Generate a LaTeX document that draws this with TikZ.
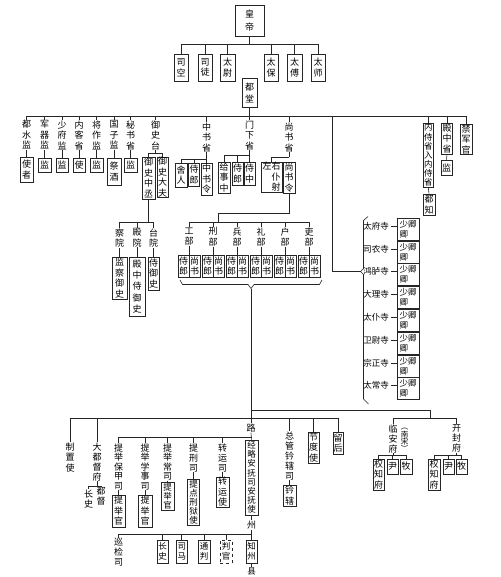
\documentclass[tikz,border=0pt]{standalone}
\usepackage{fontspec}
\newfontfamily\cjk{Noto Sans CJK SC}
\tikzset{
  bx/.style={draw=black!85, line width=0.6pt, inner sep=0.3pt, align=center, font=\cjk\fontsize{9}{10.5}\selectfont},
  t/.style={inner sep=0.3pt, align=center, font=\cjk\fontsize{9}{10.5}\selectfont},
  fz/.style 2 args={font=\cjk\fontsize{#1}{#2}\selectfont},
  ln/.style={line width=0.6pt, draw=black!85},
}
\newcommand{\Bx}[7][]{\node[bx,#1,minimum width={(#4)-(#3)},minimum height={(#6)-(#5)}] (#2) at ({((#3)+(#4))/2},{((#5)+(#6))/2}) {#7};}
\begin{document}
\begin{tikzpicture}[x=1pt,y=-1pt]
\fill[white] (0,0) rectangle (500,577);
\useasboundingbox (0,0) rectangle (500,577);

% ---------- top ----------
\Bx[fz={9}{13}]{hd}{235}{264}{5}{36}{皇\\帝}
\coordinate (tL) at (181,44); \coordinate (tR) at (318,44);
\draw[ln] (tL) -- (tR);
\draw[ln] (hd.south) -- (hd.south |- tL);
\Bx{sk}{174}{188}{54}{81}{司\\空}
\Bx{st}{198}{212}{54}{81}{司\\徒}
\Bx{tw}{220}{235}{54}{81}{太\\尉}
\Bx{tb}{264}{278}{54}{81}{太\\保}
\Bx{tf}{287}{302}{54}{81}{太\\傅}
\Bx{ts}{311}{325}{54}{81}{太\\师}
\foreach \n in {sk,st,tw,tb,tf,ts} \draw[ln] (\n.north) -- (\n.north |- tL);

\Bx[fz={9}{12}]{dt}{242}{257}{78}{107}{都\\堂}
\coordinate (mL) at (26.5,116); \coordinate (mR) at (466,116);
\draw[ln] (mL) -- (mR);
\draw[ln] (dt.south) -- (dt.south |- mL);

% ---------- row 3 left ----------
\node[t,anchor=north] (l1) at (26.5,120) {都\\水\\监};
\node[t,anchor=north] (l2) at (44.5,120) {军\\器\\监};
\node[t,anchor=north] (l3) at (62,120) {少\\府\\监};
\node[t,anchor=north] (l4) at (79,120) {内\\客\\省};
\node[t,anchor=north] (l5) at (96.5,120) {将\\作\\监};
\node[t,anchor=north] (l6) at (114,120) {国\\子\\监};
\node[t,anchor=north] (l7) at (130.5,120) {秘\\书\\省};
\Bx{b1}{20}{33}{157}{182}{使\\者}
\Bx{b2}{38}{51}{158}{172}{监}
\Bx{b3}{56}{68}{158}{172}{监}
\Bx{b4}{73}{85}{158}{172}{使}
\Bx{b5}{90}{103}{158}{172}{监}
\Bx{b6}{107}{121}{158}{185}{祭\\酒}
\Bx{b7}{124}{137}{158}{172}{监}
\foreach \i in {1,...,7} {
  \draw[ln] (l\i.north) -- (l\i.north |- mL);
  \draw[ln] (l\i.south) -- (b\i.north);
}

% 御史台
\node[t,anchor=north] (ys) at (155.5,120) {御\\史\\台};
\draw[ln] (ys.north) -- (ys.north |- mL);
\coordinate (ybr) at (155.5,153.5);
\Bx{yz}{142}{155}{157}{199}{御\\史\\中\\丞}
\Bx{yd}{157}{168}{157}{197}{御\\史\\大\\夫}
\draw[ln] (ys.south) -- (ybr);
\draw[ln] (yz.north) -- (yz.north |- ybr) -- (yd.north |- ybr) -- (yd.north);
\coordinate (cyL) at (119.5,222);
\Bx{jc}{112}{127}{257}{299}{监\\察\\御\\史}
\Bx[fz={9}{11.3}]{dzy}{129}{145}{257}{316}{殿\\中\\侍\\御\\史}
\Bx{sy}{148}{159}{257}{290}{侍\\御\\史}
\node[t,anchor=north] (cy) at (119.5,228) {察\\院};
\node[t,anchor=north] (dy) at (137,228) {殿\\院};
\node[t,anchor=north] (ty) at (153.5,228) {台\\院};
\draw[ln] (yz.south) -- (yz.south |- cyL);
\draw[ln] (cyL) -- (ty.north |- cyL);
\foreach \a/\b in {cy/jc,dy/dzy,ty/sy} {
  \draw[ln] (\a.north) -- (\a.north |- cyL);
  \draw[ln] (\a.south) -- (\b.north);
}

% 中书省
\node[t,anchor=north] (zs) at (206.5,122) {中\\书\\省};
\draw[ln] (zs.north) -- (zs.north |- mL);
\coordinate (zsb) at (181,159);
\Bx{sr}{175}{187}{163}{187}{舍\\人}
\Bx{zl}{188.5}{199.5}{163}{186}{侍\\郎}
\Bx{zsl}{201}{212}{163}{195}{中\\书\\令}
\draw[ln] (zs.south) -- (zs.south |- zsb);
\draw[ln] (sr.north) -- (sr.north |- zsb) -- (zsl.north |- zsb) -- (zsl.north);
\draw[ln] (zl.north) -- (zl.north |- zsb);

% 门下省
\node[t,anchor=north] (mx) at (249.5,120) {门\\下\\省};
\draw[ln] (mx.north) -- (mx.north |- mL);
\coordinate (mxb) at (224,155);
\Bx{gs}{218}{230}{162}{193}{给\\事\\中}
\Bx{ml}{232}{243}{162}{185}{侍\\郎}
\Bx{sz}{244}{255}{162}{185}{侍\\中}
\draw[ln] (mx.south) -- (mx.south |- mxb);
\draw[ln] (gs.north) -- (gs.north |- mxb) -- (sz.north |- mxb) -- (sz.north);
\draw[ln] (ml.north) -- (ml.north |- mxb);

% 尚书省
\node[t,anchor=north] (ss) at (289,122) {尚\\书\\省};
\draw[ln] (ss.north) -- (ss.north |- mL);
\coordinate (ssb) at (271.5,157.5);
\Bx[align=right]{pu}{261}{282}{162}{192}{左右\\仆\\射}
\Bx{ssl}{283}{295}{162}{193}{尚\\书\\令}
\draw[ln] (ss.south) -- (ss.south |- ssb);
\draw[ln] (pu.north) -- (pu.north |- ssb) -- (ssl.north |- ssb);

% 六部
\coordinate (lbT) at (218,213);
\coordinate (lbL) at (189,222); \coordinate (lbR) at (309,222);
\draw[ln] (ssl.south) |- (lbT) -- (lbT |- lbL);
\draw[ln] (lbL) -- (lbR);
\foreach \k/\nm in {0/工,1/刑,2/兵,3/礼,4/户,5/吏} {
  \pgfmathsetmacro\xa{178+24*\k}
  \pgfmathsetmacro\xb{\xa+11}
  \pgfmathsetmacro\xc{\xa+22}
  \node[t,anchor=north] (bu\k) at (\xb,227) {\nm\\部};
  \Bx{jl\k}{\xa}{\xb}{255}{277}{侍\\郎}
  \Bx{sh\k}{\xb}{\xc}{255}{277}{尚\\书}
  \draw[ln] (bu\k.north) -- (bu\k.north |- lbL);
  \draw[ln] (bu\k.south) -- (bu\k.south |- jl\k.north);
}
\coordinate (brT) at (251,288.5);
\draw[ln] (180,280) -- (182.5,284.5) -- (248,284.5) -- (brT) -- (254,284.5) -- (319.5,284.5) -- (322,280);

% ---------- right column ----------
\Bx[fz={8.5}{9.1}]{nq}{423}{433.5}{123}{187}{内\\侍\\省\\入\\内\\侍\\省}
\Bx{dzh}{423}{435}{194}{215}{都\\知}
\Bx{dzs}{441.5}{452.5}{123}{154}{殿\\中\\省}
\Bx{dzj}{441}{452}{160}{175}{监}
\Bx{jj}{460}{472}{125}{154}{禁\\军\\官}
\draw[ln] (nq.south) -- (dzh.north);
\draw[ln] (dzs.south) -- (dzj.north);
\foreach \n in {nq,dzs,jj} \draw[ln] (\n.north) -- (\n.north |- mL);

% 九寺
\coordinate (rv) at (332,116);
\coordinate (brk) at (360.5,271.5);
\draw[ln] (rv) |- (brk);
\draw[ln] (368,216.5) -- (363.5,220.5) -- (363.5,268.5) -- (brk) -- (363.5,274.5) -- (363.5,399) -- (368.5,404);
\foreach \i/\nm in {0/太府寺,1/司农寺,2/鸿胪寺,3/大理寺,4/太仆寺,5/卫尉寺,6/宗正寺,7/太常寺} {
  \pgfmathsetmacro\yy{226+22.8*\i}
  \node[t,fz={8.5}{10}] (si\i) at (376,\yy) {\nm};
  \Bx[align=left,fz={8.5}{10}]{sq\i}{397}{419}{\yy-8}{\yy+14}{少卿\\卿}
  \draw[ln] (si\i.east) ++(1.5,0) -- (sq\i.west |- si\i.east);
}

% ---------- bottom ----------
\coordinate (b1a) at (251,410); \coordinate (b1b) at (430,410);
\coordinate (b2L) at (70,418); \coordinate (b2R) at (338,418);
\coordinate (b3L) at (393,418); \coordinate (b3R) at (456.5,418);
\draw[ln] (brT) -- (brT |- b2L);
\draw[ln] (b1a) -- (b1b) -- (b1b |- b3L);
\draw[ln] (b3L) -- (b3R);
\draw[ln] (b2L) -- (b2R);

\node[t,anchor=north] (zz) at (70,442) {制\\置\\使};
\node[t,anchor=north,fz={9}{10}] (dd) at (97,442) {大\\都\\督\\府};
\draw[ln] (zz.north) -- (zz.north |- b2L);
\draw[ln] (dd.north) -- (dd.north |- b2L);
\coordinate (ddb) at (88.5,486);
\node[t,anchor=north,fz={9}{10}] (cs) at (88.5,489) {长\\史};
\node[t,anchor=north,fz={9}{10}] (ddu) at (101,487) {都\\督};
\draw[ln] (dd.south) -- (dd.south |- ddb);
\draw[ln] (cs.north) -- (cs.north |- ddb) -- (ddu.north |- ddb) -- (ddu.north);

\node[t] (lu) at (251,428) {路};
\draw[ln] (lu.north) -- (lu.north |- b2L);
\coordinate (luL) at (118.5,437);
\Bx[fz={8.5}{9.2}]{jl}{245}{258}{440}{515}{经\\略\\安\\抚\\司\\安\\抚\\使}
\draw[ln] (lu.south) -- (jl.north);
\draw[ln] (luL) -- (jl.north |- luL);
\node[t,anchor=north,fz={9}{9.5}] (p1) at (118.5,443) {提\\举\\保\\甲\\司};
\node[t,anchor=north,fz={9}{9.5}] (p2) at (145,443) {提\\举\\学\\事\\司};
\node[t,anchor=north,fz={9}{9.5}] (p3) at (167.5,443) {提\\举\\常\\司};
\node[t,anchor=north,fz={9}{10}] (p4) at (193.5,443) {提\\刑\\司};
\node[t,anchor=north,fz={9}{10}] (p5) at (222.5,443) {转\\运\\司};
\Bx{q1}{112}{125}{495}{527}{提\\举\\官}
\Bx{q2}{138}{152}{495}{527}{提\\举\\官}
\Bx[fz={8.5}{9}]{q3}{161}{174}{482}{510}{提\\举\\官}
\Bx[fz={8.5}{9}]{q4}{187.5}{199.5}{479}{525}{提\\点\\刑\\狱\\使}
\Bx{q5}{216}{229}{477}{507}{转\\运\\使}
\foreach \i in {1,...,5} {
  \draw[ln] (p\i.north) -- (p\i.north |- luL);
  \draw[ln] (p\i.south) -- (q\i.north);
}

\node[t] (zh) at (251.5,525) {州};
\draw[ln] (jl.south) -- (zh.north);
\coordinate (zhL) at (118.5,534);
\draw[ln] (zh.south) -- (zh.south |- zhL) -- (zhL);
\node[t,anchor=north,fz={9}{10}] (xj) at (118.5,538) {巡\\检\\司};
\draw[ln] (xj.north) -- (xj.north |- zhL);
\Bx[fz={8.5}{10}]{z1}{157}{168}{540}{563}{长\\史}
\Bx[fz={8.5}{10}]{z2}{176.5}{187}{540}{563}{司\\马}
\Bx[fz={8.5}{10}]{z3}{198}{210}{540}{563}{通\\判}
\Bx[fz={8.5}{10},dashed]{z4}{220}{232}{540}{563}{判\\官}
\Bx[fz={8.5}{10}]{z5}{246}{257}{540}{563}{知\\州}
\foreach \i in {1,...,5} \draw[ln] (z\i.north) -- (z\i.north |- zhL);
\node[t,fz={8.5}{10}] (xn) at (251.5,571) {县};
\draw[ln] (z5.south) -- (xn.north);

\node[t,anchor=north,fz={9}{10}] (zg) at (289.5,431) {总\\管\\钤\\辖\\司};
\Bx{lx}{283}{296}{485}{506}{钤\\辖}
\Bx{jd}{308}{319}{432}{463}{节\\度\\使}
\Bx{lh}{333}{343}{432}{454}{留\\后}
\draw[ln] (zg.north) -- (zg.north |- b2L);
\draw[ln] (zg.south) -- (lx.north);
\draw[ln] (jd.north) -- (jd.north |- b2L);
\draw[ln] (lh.north) -- (lh.north |- b2L);

% 临安府
\node[t,anchor=north,fz={9}{10}] (la) at (393,424) {临\\安\\府};
\node[t,fz={7.5}{7.2}] (nsg) at (404.5,440) {︵\\南\\宋\\︶};
\draw[ln] (la.north) -- (b3L);
\coordinate (lab) at (378.5,455);
\Bx{qa}{373}{384}{459}{490}{权\\知\\府}
\Bx{ya}{387}{398}{459}{474}{尹}
\Bx{ma}{400}{412}{459}{474}{牧}
\draw[ln] (la.south) -- (la.south |- lab);
\draw[ln] (qa.north) -- (qa.north |- lab) -- (ma.north |- lab) -- (ma.north);
\draw[ln] (ya.north) -- (ya.north |- lab);

% 开封府
\node[t,anchor=north,fz={9}{10}] (kf) at (456.5,424) {开\\封\\府};
\draw[ln] (kf.north) -- (b3R);
\coordinate (kfb) at (434,455);
\Bx{qb}{428}{440}{459}{490}{权\\知\\府}
\Bx{yb}{443}{454}{459}{474}{尹}
\Bx{mb}{456}{467}{459}{474}{牧}
\draw[ln] (kf.south) -- (kf.south |- kfb);
\draw[ln] (qb.north) -- (qb.north |- kfb) -- (mb.north |- kfb) -- (mb.north);
\draw[ln] (yb.north) -- (yb.north |- kfb);
\end{tikzpicture}
\end{document}
